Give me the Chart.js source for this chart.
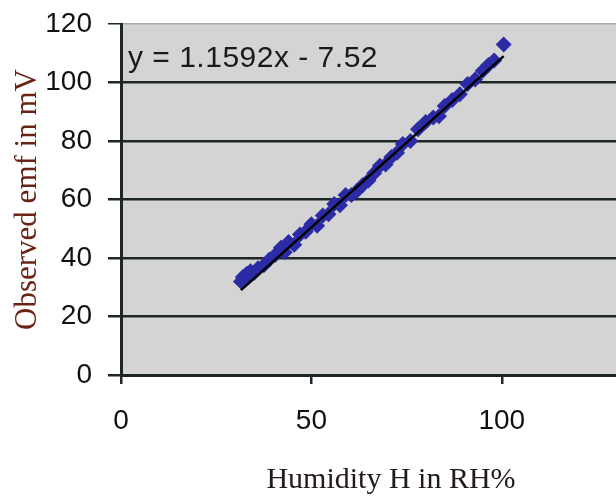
<!DOCTYPE html>
<html><head><meta charset="utf-8">
<script src="https://cdn.jsdelivr.net/npm/chart.js@4.4.1/dist/chart.umd.min.js"></script>
<style>html,body{margin:0;padding:0;background:#fff;overflow:hidden}#wrap{width:616px;height:498px;position:relative}</style>
</head><body><div id="wrap"><canvas id="c" width="616" height="498"></canvas></div>
<script>
const humidity = [31.5, 32, 32.5, 33, 33.5, 34, 35, 36, 37.5, 39, 40.5, 42, 43, 44, 45.5, 47, 48.5, 50, 51.5, 53, 54.5, 56, 57.5, 59, 60.5, 62, 63.5, 65, 66.5, 68, 69.5, 71, 72.5, 74, 76, 78, 80, 82, 83.5, 85, 87, 89, 91, 93, 95, 96.5, 98, 100.5];
const emf = [32, 33.5, 32.5, 34.5, 33.5, 35.5, 35, 36.5, 37.5, 39.5, 41, 43.5, 42, 45.5, 44.5, 48, 49, 51.5, 51, 54.5, 55, 58.5, 58, 61.5, 61.5, 63, 65, 66.5, 69, 71.5, 72, 74.5, 76, 79, 80, 84, 86.5, 88, 88.5, 92, 94, 96, 99.5, 101, 104, 106, 107.5, 113];
const trendHumidity = [31.5, 100.5];
const trendEmf = [29.0, 109.0];
const xTicks = [0, 50, 100];
const yTicks = [0, 20, 40, 60, 80, 100, 120];
const equationLabel = 'y = 1.1592x - 7.52';
const xTitle = '      Humidity H in RH%';
const yTitle = 'Observed emf in mV';

const dark = '#1f2626';
const plotBg = {
  id: 'plotBg',
  beforeDraw(chart) {
    const {ctx, chartArea: a} = chart;
    ctx.save();
    ctx.fillStyle = '#d4d4d4';
    ctx.fillRect(a.left, a.top, a.right - a.left, a.bottom - a.top);
    ctx.restore();
  },
  afterDraw(chart) {
    const {ctx} = chart;
    const ys = chart.scales.y;
    ctx.save();
    ctx.font = '30px "Liberation Sans", Arial, sans-serif';
    ctx.fillStyle = '#1a1a1a';
    ctx.textBaseline = 'alphabetic';
    ctx.textAlign = 'left';
    try { ctx.letterSpacing = '0.5px'; } catch (e) {}
    ctx.fillText(equationLabel, chart.chartArea.left + 7, ys.getPixelForValue(105.5) + 1);
    ctx.restore();
  }
};

new Chart(document.getElementById('c'), {
  data: {
    datasets: [
      {
        type: 'line',
        label: 'trend',
        data: trendHumidity.map((h, i) => ({x: h, y: trendEmf[i]})),
        borderColor: '#000',
        borderWidth: 2.5,
        pointRadius: 0,
        fill: false,
        order: 0
      },
      {
        type: 'scatter',
        label: 'emf',
        data: humidity.map((h, i) => ({x: h, y: emf[i]})),
        pointStyle: 'rectRot',
        pointRadius: 8,
        backgroundColor: '#2b2ba6',
        borderColor: '#2b2ba6',
        borderWidth: 0,
        order: 1
      }
    ]
  },
  options: {
    responsive: false,
    devicePixelRatio: 1,
    animation: false,
    layout: {autoPadding: false, padding: {top: 24, right: 0, left: 0, bottom: 0}},
    plugins: {legend: {display: false}, tooltip: {enabled: false}},
    scales: {
      x: {
        type: 'linear',
        min: 0, max: 130,
        afterBuildTicks: s => { s.ticks = xTicks.map(v => ({value: v})); },
        afterFit: s => { s.height = 123; s.paddingRight = 0; s.paddingLeft = 0; },
        border: {display: true, color: dark, width: 3},
        grid: {drawOnChartArea: false, drawTicks: true, tickLength: 9, tickColor: dark, lineWidth: 2.5},
        ticks: {padding: 20, color: '#111', font: {family: '"Liberation Sans", Arial, sans-serif', size: 28}, maxRotation: 0},
        title: {display: true, text: xTitle, color: '#221a18', padding: {top: 0, bottom: 0},
          font: {family: '"Liberation Serif", "Times New Roman", serif', size: 30, lineHeight: 1.2}}
      },
      y: {
        type: 'linear',
        min: 0, max: 120,
        afterBuildTicks: s => { s.ticks = yTicks.map(v => ({value: v})); },
        afterFit: s => { s.width = 121; s.paddingTop = 0; s.paddingBottom = 0; },
        border: {display: true, color: dark, width: 3},
        grid: {
          drawTicks: true, tickLength: 13, tickColor: dark,
          color: c => (c.tick && c.tick.value === 120) ? '#a9a9a9' : dark,
          lineWidth: c => (c.tick && c.tick.value === 120) ? 1.5 : 2.5
        },
        ticks: {padding: 16, color: '#111', font: {family: '"Liberation Sans", Arial, sans-serif', size: 28}},
        title: {display: true, text: yTitle, color: '#6a2414', padding: {top: 9, bottom: 0},
          font: {family: '"Liberation Serif", "Times New Roman", serif', size: 31, lineHeight: 1.2}}
      }
    }
  },
  plugins: [plotBg]
});
</script>
</body></html>
